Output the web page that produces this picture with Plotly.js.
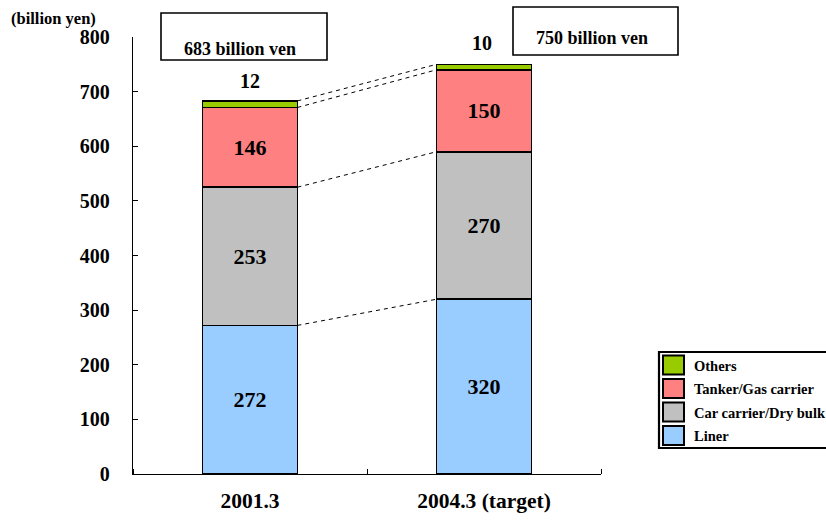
<!DOCTYPE html>
<html>
<head>
<meta charset="utf-8">
<script src="https://cdn.plot.ly/plotly-3.0.1.min.js"></script>
<style>html,body{margin:0;padding:0;background:#fff;}#chart{width:826px;height:521px;}</style>
</head>
<body>
<div id="chart"></div>
<script>
var categories = ["2001.3", "2004.3 (target)"];
var seriesNames = ["Liner", "Car carrier/Dry bulk", "Tanker/Gas carrier", "Others"];
var liner = [272, 320];
var carCarrier = [253, 270];
var tanker = [146, 150];
var others = [12, 10];
var totalLabels = ["683 billion ven", "750 billion ven"];
var yTicks = [0, 100, 200, 300, 400, 500, 600, 700, 800];
var colors = ["#99CCFF", "#C0C0C0", "#FF8080", "#99CC00"];

var FONT = "Liberation Serif, Times New Roman, serif";
var barW = 0.405;
var xIdx = categories.map(function(c, i){ return i; });
var series = [liner, carCarrier, tanker, others];

// plot area in pixels (for paper-coordinate helpers)
var PL = 133, PR = 601, PT = 37, PB = 474;
function px(x){ return (x - PL) / (PR - PL); }
function py(y){ return (PB - y) / (PB - PT); }

var traces = series.map(function(vals, k){
  var showText = k < 3;
  return {
    type: "bar", name: seriesNames[k], x: xIdx, y: vals, width: barW,
    marker: {color: colors[k], line: {color: "#000", width: 1.6}},
    text: showText ? vals.map(String) : null,
    textposition: showText ? "inside" : "none",
    insidetextanchor: "middle",
    textfont: {family: FONT, size: 22, color: "#000", weight: "bold"},
    hoverinfo: "none", showlegend: false
  };
});

var cum0 = [], cum1 = [], s0 = 0, s1 = 0;
series.forEach(function(s){ s0 += s[0]; s1 += s[1]; cum0.push(s0); cum1.push(s1); });

var shapes = [];
for (var i = 0; i < cum0.length; i++) {
  shapes.push({type: "line", xref: "x", yref: "y", x0: xIdx[0] + barW/2, x1: xIdx[1] - barW/2,
    y0: cum0[i], y1: cum1[i], line: {color: "#000", width: 1, dash: "4px,4px"}});
}
// total boxes
shapes.push({type: "rect", xref: "paper", yref: "paper", x0: px(161), x1: px(327),
  y0: py(60), y1: py(13), line: {color: "#000", width: 1.6}, fillcolor: "rgba(0,0,0,0)"});
shapes.push({type: "rect", xref: "paper", yref: "paper", x0: px(513), x1: px(678),
  y0: py(55), y1: py(7), line: {color: "#000", width: 1.6}, fillcolor: "rgba(0,0,0,0)"});

var annotations = [
  {xref: "paper", yref: "paper", x: px(240), y: py(49), xanchor: "center", yanchor: "middle",
   text: totalLabels[0], showarrow: false, font: {family: FONT, size: 18, color: "#000", weight: "bold"}},
  {xref: "paper", yref: "paper", x: px(592), y: py(38), xanchor: "center", yanchor: "middle",
   text: totalLabels[1], showarrow: false, font: {family: FONT, size: 18, color: "#000", weight: "bold"}},
  {xref: "x", yref: "y", x: xIdx[0], y: cum0[3], yshift: 20, xanchor: "center", yanchor: "middle",
   text: String(others[0]), showarrow: false, font: {family: FONT, size: 20, color: "#000", weight: "bold"}},
  {xref: "x", yref: "y", x: xIdx[1], y: cum1[3], yshift: 21, xshift: -2, xanchor: "center", yanchor: "middle",
   text: String(others[1]), showarrow: false, font: {family: FONT, size: 20, color: "#000", weight: "bold"}},
  {xref: "paper", yref: "paper", x: px(9), y: py(18), xanchor: "left", yanchor: "middle",
   text: "(billion yen)", showarrow: false, font: {family: FONT, size: 16.5, color: "#000", weight: "bold"}}
];

// custom legend (Others on top, Liner at bottom)
var legTop = 352, legBottom = 448, rowH = 23.5;
shapes.push({type: "rect", xref: "paper", yref: "paper", x0: px(659), x1: px(840),
  y0: py(legBottom), y1: py(legTop), line: {color: "#000", width: 2.2}, fillcolor: "#fff", layer: "below"});
for (var r = 0; r < 4; r++) {
  var k = 3 - r;
  var yTop = legTop + 3.5 + r * rowH;
  shapes.push({type: "rect", xref: "paper", yref: "paper", x0: px(663), x1: px(684),
    y0: py(yTop + 19), y1: py(yTop), line: {color: "#000", width: 2}, fillcolor: colors[k]});
  annotations.push({xref: "paper", yref: "paper", x: px(692), y: py(yTop + 10), xanchor: "left", yanchor: "middle",
    text: seriesNames[k], showarrow: false, font: {family: FONT, size: 14.5, color: "#000", weight: "bold"}});
}

var layout = {
  width: 826, height: 521,
  margin: {l: PL, r: 826 - PR, t: PT, b: 521 - PB, pad: 0},
  paper_bgcolor: "#fff", plot_bgcolor: "rgba(0,0,0,0)",
  barmode: "stack",
  showlegend: false,
  xaxis: {range: [-0.5, 1.5], tickvals: xIdx, ticktext: categories, showline: true, linecolor: "#000", linewidth: 1.3,
    ticks: "", showgrid: false, zeroline: false,
    minor: {tickvals: [-0.5, 0.5, 1.5], ticks: "inside", ticklen: 5, tickcolor: "#000", showgrid: false},
    tickfont: {family: FONT, size: 21.5, color: "#000", weight: "bold"}, ticklabelstandoff: 7, fixedrange: true},
  yaxis: {range: [0, 800], tickvals: yTicks, showline: true, linecolor: "#000", linewidth: 1.3,
    ticks: "inside", ticklen: 5, tickcolor: "#000", showgrid: false, zeroline: false,
    tickfont: {family: FONT, size: 20, color: "#000", weight: "bold"}, ticklabelstandoff: 18, fixedrange: true},
  shapes: shapes,
  annotations: annotations
};

Plotly.newPlot("chart", traces, layout, {displayModeBar: false, staticPlot: true});
</script>
</body>
</html>
